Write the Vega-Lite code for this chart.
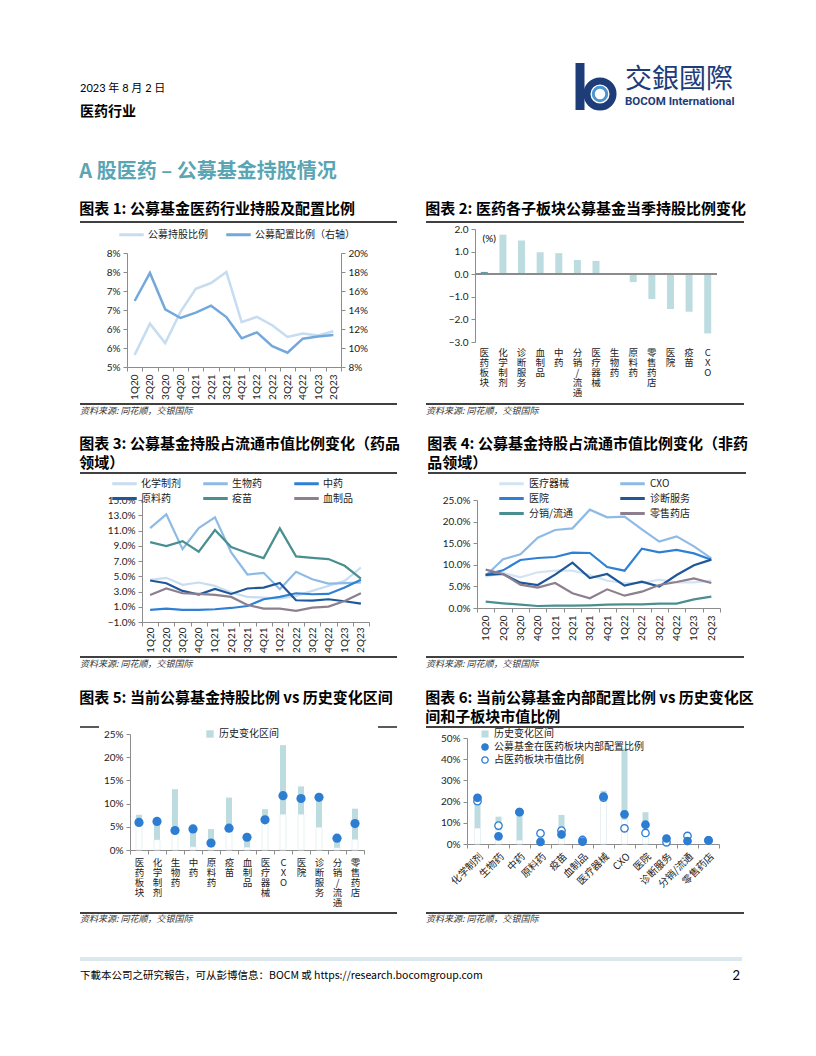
{
"$schema": "https://vega.github.io/schema/vega-lite/v6.json",
"padding": {"left": 78, "top": 58, "right": 5, "bottom": 5},
"background": "white",
"spacing": 0,
"resolve": {"scale": {"x": "independent", "y": "independent", "color": "independent", "fill": "independent", "stroke": "independent"}, "legend": {"color": "independent", "fill": "independent", "stroke": "independent"}},
"config": {
  "font": "Lato, Noto Sans CJK SC",
  "view": {"stroke": null},
  "axis": {"grid": false, "domainColor": "#8c8c8c", "tickColor": "#8c8c8c", "labelColor": "#222222", "labelFont": "Lato, Noto Sans CJK SC", "labelFontSize": 10, "tickSize": 4, "labelPadding": 3, "labelOverlap": false},
  "legend": {"labelFont": "Noto Sans CJK SC", "labelFontSize": 10, "labelColor": "#222222"},
  "title": {"anchor": "start", "frame": "bounds", "font": "Noto Sans CJK SC", "fontSize": 15, "fontWeight": "bold", "color": "#000000", "offset": 1, "lineHeight": 19}
},
"datasets": {
  "blank": [{}],
  "c1": [
    {"q":"1Q20","hold":5.32,"alloc":14.95},{"q":"2Q20","hold":6.14,"alloc":17.9},{"q":"3Q20","hold":5.63,"alloc":14.07},{"q":"4Q20","hold":6.45,"alloc":13.16},
    {"q":"1Q21","hold":7.06,"alloc":13.72},{"q":"2Q21","hold":7.21,"alloc":14.46},{"q":"3Q21","hold":7.5,"alloc":13.26},{"q":"4Q21","hold":6.18,"alloc":11.02},
    {"q":"1Q22","hold":6.32,"alloc":11.65},{"q":"2Q22","hold":6.1,"alloc":10.2},{"q":"3Q22","hold":5.79,"alloc":9.5},{"q":"4Q22","hold":5.88,"alloc":10.98},
    {"q":"1Q23","hold":5.83,"alloc":11.2},{"q":"2Q23","hold":5.94,"alloc":11.37}
  ],
  "c2": [
    {"cat":"医药板块","v":0.1},{"cat":"化学制剂","v":1.75},{"cat":"诊断服务","v":1.49},{"cat":"血制品","v":0.97},{"cat":"中药","v":0.93},{"cat":"分销/流通","v":0.63},{"cat":"医疗器械","v":0.59},{"cat":"生物药","v":0.04},{"cat":"原料药","v":-0.35},{"cat":"零售药店","v":-1.1},{"cat":"医院","v":-1.54},{"cat":"疫苗","v":-1.66},{"cat":"CXO","v":-2.62}
  ],
  "c3": [
    {"q":"1Q20","s":"化学制剂","v":4.53},{"q":"2Q20","s":"化学制剂","v":4.79},{"q":"3Q20","s":"化学制剂","v":3.87},{"q":"4Q20","s":"化学制剂","v":4.18},{"q":"1Q21","s":"化学制剂","v":3.74},{"q":"2Q21","s":"化学制剂","v":2.86},{"q":"3Q21","s":"化学制剂","v":2.29},{"q":"4Q21","s":"化学制剂","v":2.2},{"q":"1Q22","s":"化学制剂","v":2.07},{"q":"2Q22","s":"化学制剂","v":2.42},{"q":"3Q22","s":"化学制剂","v":3.08},{"q":"4Q22","s":"化学制剂","v":3.74},{"q":"1Q23","s":"化学制剂","v":4.39},{"q":"2Q23","s":"化学制剂","v":6.15},
    {"q":"1Q20","s":"生物药","v":11.32},{"q":"2Q20","s":"生物药","v":13.12},{"q":"3Q20","s":"生物药","v":8.56},{"q":"4Q20","s":"生物药","v":11.32},{"q":"1Q21","s":"生物药","v":12.73},{"q":"2Q21","s":"生物药","v":8.12},{"q":"3Q21","s":"生物药","v":5.23},{"q":"4Q21","s":"生物药","v":5.45},{"q":"1Q22","s":"生物药","v":3.3},{"q":"2Q22","s":"生物药","v":5.58},{"q":"3Q22","s":"生物药","v":4.61},{"q":"4Q22","s":"生物药","v":4.04},{"q":"1Q23","s":"生物药","v":4.09},{"q":"2Q23","s":"生物药","v":4.18},
    {"q":"1Q20","s":"中药","v":0.58},{"q":"2Q20","s":"中药","v":0.75},{"q":"3Q20","s":"中药","v":0.58},{"q":"4Q20","s":"中药","v":0.58},{"q":"1Q21","s":"中药","v":0.67},{"q":"2Q21","s":"中药","v":0.84},{"q":"3Q21","s":"中药","v":1.1},{"q":"4Q21","s":"中药","v":1.98},{"q":"1Q22","s":"中药","v":2.29},{"q":"2Q22","s":"中药","v":2.77},{"q":"3Q22","s":"中药","v":2.64},{"q":"4Q22","s":"中药","v":2.68},{"q":"1Q23","s":"中药","v":3.52},{"q":"2Q23","s":"中药","v":4.53},
    {"q":"1Q20","s":"原料药","v":4.44},{"q":"2Q20","s":"原料药","v":4.09},{"q":"3Q20","s":"原料药","v":3.08},{"q":"4Q20","s":"原料药","v":2.6},{"q":"1Q21","s":"原料药","v":3.34},{"q":"2Q21","s":"原料药","v":2.68},{"q":"3Q21","s":"原料药","v":3.39},{"q":"4Q21","s":"原料药","v":3.52},{"q":"1Q22","s":"原料药","v":4.13},{"q":"2Q22","s":"原料药","v":1.85},{"q":"3Q22","s":"原料药","v":1.81},{"q":"4Q22","s":"原料药","v":1.98},{"q":"1Q23","s":"原料药","v":1.72},{"q":"2Q23","s":"原料药","v":1.41},
    {"q":"1Q20","s":"疫苗","v":9.48},{"q":"2Q20","s":"疫苗","v":8.96},{"q":"3Q20","s":"疫苗","v":9.61},{"q":"4Q20","s":"疫苗","v":8.21},{"q":"1Q21","s":"疫苗","v":11.06},{"q":"2Q21","s":"疫苗","v":8.82},{"q":"3Q21","s":"疫苗","v":8.04},{"q":"4Q21","s":"疫苗","v":7.38},{"q":"1Q22","s":"疫苗","v":11.28},{"q":"2Q22","s":"疫苗","v":7.6},{"q":"3Q22","s":"疫苗","v":7.42},{"q":"4Q22","s":"疫苗","v":7.25},{"q":"1Q23","s":"疫苗","v":6.37},{"q":"2Q23","s":"疫苗","v":4.7},
    {"q":"1Q20","s":"血制品","v":2.55},{"q":"2Q20","s":"血制品","v":3.39},{"q":"3Q20","s":"血制品","v":2.77},{"q":"4Q20","s":"血制品","v":2.68},{"q":"1Q21","s":"血制品","v":2.55},{"q":"2Q21","s":"血制品","v":2.29},{"q":"3Q21","s":"血制品","v":1.24},{"q":"4Q21","s":"血制品","v":0.75},{"q":"1Q22","s":"血制品","v":0.75},{"q":"2Q22","s":"血制品","v":0.45},{"q":"3Q22","s":"血制品","v":0.89},{"q":"4Q22","s":"血制品","v":1.02},{"q":"1Q23","s":"血制品","v":1.76},{"q":"2Q23","s":"血制品","v":2.77}
  ],
  "c4": [
    {"q":"1Q20","s":"医疗器械","v":7.25},{"q":"2Q20","s":"医疗器械","v":8.1},{"q":"3Q20","s":"医疗器械","v":7.1},{"q":"4Q20","s":"医疗器械","v":8.26},{"q":"1Q21","s":"医疗器械","v":8.64},{"q":"2Q21","s":"医疗器械","v":8.64},{"q":"3Q21","s":"医疗器械","v":7.64},{"q":"4Q21","s":"医疗器械","v":6.33},{"q":"1Q22","s":"医疗器械","v":5.79},{"q":"2Q22","s":"医疗器械","v":5.79},{"q":"3Q22","s":"医疗器械","v":6.56},{"q":"4Q22","s":"医疗器械","v":5.94},{"q":"1Q23","s":"医疗器械","v":5.94},{"q":"2Q23","s":"医疗器械","v":6.33},
    {"q":"1Q20","s":"CXO","v":7.48},{"q":"2Q20","s":"CXO","v":11.27},{"q":"3Q20","s":"CXO","v":12.42},{"q":"4Q20","s":"CXO","v":16.28},{"q":"1Q21","s":"CXO","v":18.06},{"q":"2Q21","s":"CXO","v":18.44},{"q":"3Q21","s":"CXO","v":22.76},{"q":"4Q21","s":"CXO","v":20.99},{"q":"1Q22","s":"CXO","v":21.14},{"q":"2Q22","s":"CXO","v":18.21},{"q":"3Q22","s":"CXO","v":15.36},{"q":"4Q22","s":"CXO","v":16.59},{"q":"1Q23","s":"CXO","v":14.27},{"q":"2Q23","s":"CXO","v":11.5},
    {"q":"1Q20","s":"医院","v":7.72},{"q":"2Q20","s":"医院","v":8.72},{"q":"3Q20","s":"医院","v":11.11},{"q":"4Q20","s":"医院","v":11.57},{"q":"1Q21","s":"医院","v":11.81},{"q":"2Q21","s":"医院","v":12.81},{"q":"3Q21","s":"医院","v":12.73},{"q":"4Q21","s":"医院","v":9.49},{"q":"1Q22","s":"医院","v":8.64},{"q":"2Q22","s":"医院","v":13.73},{"q":"3Q22","s":"医院","v":12.89},{"q":"4Q22","s":"医院","v":13.43},{"q":"1Q23","s":"医院","v":12.65},{"q":"2Q23","s":"医院","v":11.19},
    {"q":"1Q20","s":"诊断服务","v":7.64},{"q":"2Q20","s":"诊断服务","v":7.87},{"q":"3Q20","s":"诊断服务","v":5.86},{"q":"4Q20","s":"诊断服务","v":5.32},{"q":"1Q21","s":"诊断服务","v":7.72},{"q":"2Q21","s":"诊断服务","v":10.49},{"q":"3Q21","s":"诊断服务","v":6.94},{"q":"4Q21","s":"诊断服务","v":7.87},{"q":"1Q22","s":"诊断服务","v":5.17},{"q":"2Q22","s":"诊断服务","v":6.1},{"q":"3Q22","s":"诊断服务","v":4.94},{"q":"4Q22","s":"诊断服务","v":7.64},{"q":"1Q23","s":"诊断服务","v":9.88},{"q":"2Q23","s":"诊断服务","v":11.19},
    {"q":"1Q20","s":"分销/流通","v":1.47},{"q":"2Q20","s":"分销/流通","v":1.08},{"q":"3Q20","s":"分销/流通","v":0.77},{"q":"4Q20","s":"分销/流通","v":0.46},{"q":"1Q21","s":"分销/流通","v":0.54},{"q":"2Q21","s":"分销/流通","v":0.54},{"q":"3Q21","s":"分销/流通","v":0.62},{"q":"4Q21","s":"分销/流通","v":0.77},{"q":"1Q22","s":"分销/流通","v":0.85},{"q":"2Q22","s":"分销/流通","v":0.85},{"q":"3Q22","s":"分销/流通","v":1.0},{"q":"4Q22","s":"分销/流通","v":1.0},{"q":"1Q23","s":"分销/流通","v":2.0},{"q":"2Q23","s":"分销/流通","v":2.62},
    {"q":"1Q20","s":"零售药店","v":8.87},{"q":"2Q20","s":"零售药店","v":7.87},{"q":"3Q20","s":"零售药店","v":5.4},{"q":"4Q20","s":"零售药店","v":4.71},{"q":"1Q21","s":"零售药店","v":5.79},{"q":"2Q21","s":"零售药店","v":3.4},{"q":"3Q21","s":"零售药店","v":2.24},{"q":"4Q21","s":"零售药店","v":4.32},{"q":"1Q22","s":"零售药店","v":2.85},{"q":"2Q22","s":"零售药店","v":3.78},{"q":"3Q22","s":"零售药店","v":5.32},{"q":"4Q22","s":"零售药店","v":6.02},{"q":"1Q23","s":"零售药店","v":6.87},{"q":"2Q23","s":"零售药店","v":5.79}
  ],
  "c5": [
    {"cat":"医药板块","lo":5.5,"hi":7.6,"cur":5.95},{"cat":"化学制剂","lo":2.2,"hi":6.3,"cur":6.15},{"cat":"生物药","lo":4.6,"hi":13.1,"cur":4.2},{"cat":"中药","lo":0.7,"hi":4.6,"cur":4.55},{"cat":"原料药","lo":1.2,"hi":4.5,"cur":1.5},{"cat":"疫苗","lo":4.3,"hi":11.3,"cur":4.7},{"cat":"血制品","lo":0.6,"hi":2.9,"cur":2.75},{"cat":"医疗器械","lo":6.0,"hi":8.8,"cur":6.5},{"cat":"CXO","lo":7.7,"hi":22.6,"cur":11.7},{"cat":"医院","lo":7.7,"hi":13.7,"cur":11.1},{"cat":"诊断服务","lo":4.9,"hi":11.4,"cur":11.35},{"cat":"分销/流通","lo":0.5,"hi":2.6,"cur":2.55},{"cat":"零售药店","lo":2.3,"hi":8.9,"cur":5.7}
  ],
  "c6": [
    {"cat":"化学制剂","lo":7.5,"hi":22.0,"alloc":21.8,"mkt":20.2},{"cat":"生物药","lo":6.5,"hi":12.9,"alloc":3.6,"mkt":8.7},{"cat":"中药","lo":1.8,"hi":15.5,"alloc":15.0,"mkt":15.1},{"cat":"原料药","lo":0.8,"hi":1.4,"alloc":1.0,"mkt":5.0},{"cat":"疫苗","lo":4.6,"hi":13.7,"alloc":4.5,"mkt":6.3},{"cat":"血制品","lo":0.8,"hi":1.9,"alloc":1.1,"mkt":1.9},{"cat":"医疗器械","lo":21.5,"hi":25.1,"alloc":22.4,"mkt":21.9},{"cat":"CXO","lo":11.5,"hi":45.0,"alloc":14.0,"mkt":7.4},{"cat":"医院","lo":8.5,"hi":15.0,"alloc":9.1,"mkt":5.2},{"cat":"诊断服务","lo":1.5,"hi":2.8,"alloc":2.6,"mkt":0.8},{"cat":"分销/流通","lo":1.0,"hi":1.8,"alloc":1.4,"mkt":3.8},{"cat":"零售药店","lo":1.0,"hi":2.2,"alloc":1.7,"mkt":1.7}
  ]
},
"vconcat": [
  {"hconcat": [
    {"width": 480, "height": 100, "data": {"name": "blank"},
     "layer": [
      {"mark": {"type": "text", "align": "left", "baseline": "middle", "fontSize": 11, "color": "#000000"},
       "encoding": {"x": {"datum": 0, "type": "quantitative", "scale": {"domain": [0, 480], "nice": false}, "axis": null}, "y": {"datum": 27, "type": "quantitative", "scale": {"domain": [100, 0], "nice": false}, "axis": null}, "text": {"value": "2023 年 8 月 2 日"}}},
      {"mark": {"type": "text", "align": "left", "baseline": "middle", "fontSize": 14, "fontWeight": "bold", "font": "Noto Sans CJK SC", "color": "#000000"},
       "encoding": {"x": {"datum": 0, "type": "quantitative"}, "y": {"datum": 50, "type": "quantitative"}, "text": {"value": "医药行业"}}}
     ]},
    {"width": 170, "height": 100, "data": {"name": "blank"},
     "layer": [
      {"mark": {"type": "rule", "strokeWidth": 9, "color": "#1d3c78", "strokeCap": "butt"},
       "encoding": {"x": {"datum": 7, "type": "quantitative", "scale": {"domain": [0, 170], "nice": false}, "axis": null}, "y": {"datum": 1, "type": "quantitative", "scale": {"domain": [100, 0], "nice": false}, "axis": null}, "y2": {"datum": 48}}},
      {"mark": {"type": "point", "shape": "circle", "filled": false, "stroke": "#1d3c78", "strokeWidth": 7, "size": 680, "opacity": 1},
       "encoding": {"x": {"datum": 27, "type": "quantitative"}, "y": {"datum": 32, "type": "quantitative"}}},
      {"mark": {"type": "point", "shape": "circle", "filled": false, "stroke": "#4f95d0", "strokeWidth": 3, "size": 180, "opacity": 1},
       "encoding": {"x": {"datum": 27, "type": "quantitative"}, "y": {"datum": 32, "type": "quantitative"}}},
      {"mark": {"type": "text", "align": "left", "baseline": "middle", "fontSize": 27, "font": "Noto Sans CJK TC", "color": "#1d3c78"},
       "encoding": {"x": {"datum": 52, "type": "quantitative"}, "y": {"datum": 18, "type": "quantitative"}, "text": {"value": "交銀國際"}}},
      {"mark": {"type": "text", "align": "left", "baseline": "middle", "fontSize": 11.5, "fontWeight": "bold", "font": "Roboto", "color": "#1d3c78"},
       "encoding": {"x": {"datum": 52, "type": "quantitative"}, "y": {"datum": 40, "type": "quantitative"}, "text": {"value": "BOCOM International"}}}
     ]}
  ], "spacing": 12, "resolve": {"scale": {"x": "independent", "y": "independent", "color": "independent"}, "legend": {"color": "independent"}}},

  {"hconcat": [
    {"width": 317, "height": 1, "data": {"name": "blank"},
     "title": {"text": "A 股医药 – 公募基金持股情况", "subtitle": "图表 1: 公募基金医药行业持股及配置比例", "fontSize": 20, "color": "#5aa5b3", "subtitleFont": "Noto Sans CJK SC", "subtitleFontSize": 15, "subtitleFontWeight": "bold", "subtitleColor": "#000000", "subtitlePadding": 20, "offset": 4},
     "mark": {"type": "rule", "strokeWidth": 1.3, "color": "#000000"},
     "encoding": {"x": {"datum": 0, "type": "quantitative", "scale": {"domain": [0, 1], "nice": false}, "axis": null}, "x2": {"datum": 1}, "y": {"datum": 1, "type": "quantitative", "scale": {"domain": [0, 1], "nice": false}, "axis": null}}},
    {"width": 318, "height": 1, "data": {"name": "blank"},
     "title": {"text": " ", "subtitle": "图表 2: 医药各子板块公募基金当季持股比例变化", "fontSize": 20, "color": "#5aa5b3", "subtitleFont": "Noto Sans CJK SC", "subtitleFontSize": 15, "subtitleFontWeight": "bold", "subtitleColor": "#000000", "subtitlePadding": 20, "offset": 4},
     "mark": {"type": "rule", "strokeWidth": 1.3, "color": "#000000"},
     "encoding": {"x": {"datum": 0, "type": "quantitative", "scale": {"domain": [0, 1], "nice": false}, "axis": null}, "x2": {"datum": 1}, "y": {"datum": 1, "type": "quantitative", "scale": {"domain": [0, 1], "nice": false}, "axis": null}}}
  ], "spacing": 27, "resolve": {"scale": {"x": "independent", "y": "independent"}}},

  {"hconcat": [
    {"width": 1, "height": 1, "data": {"name": "blank"}, "mark": {"type": "rule", "strokeWidth": 0, "opacity": 0}, "encoding": {"x": {"value": 0}, "y": {"value": 0}, "x2": {"value": 1}, "y2": {"value": 0}}},
    {"vconcat": [
      {"width": 1, "height": 3, "data": {"name": "blank"}, "mark": {"type": "rule", "strokeWidth": 0, "opacity": 0}, "encoding": {"x": {"value": 0}, "y": {"value": 0}, "x2": {"value": 1}, "y2": {"value": 0}}},
      {"width": 214, "height": 114, "data": {"name": "c1"},
       "encoding": {"x": {"field": "q", "type": "ordinal", "sort": null, "bandPosition": 0.5, "scale": {"type": "band", "paddingInner": 0, "paddingOuter": 0}, "axis": {"labelAngle": -90, "tickBand": "extent", "title": null, "labelFontSize": 10}}},
       "layer": [
        {"mark": {"type": "line", "strokeWidth": 2.5},
         "encoding": {
          "y": {"field": "hold", "type": "quantitative", "scale": {"domain": [5, 8], "zero": false, "nice": false}, "axis": {"orient": "left", "values": [5, 5.5, 6, 6.5, 7, 7.5, 8], "labelExpr": "round(datum.value) + '%'", "title": null, "minExtent": 46, "labelOverlap": false}},
          "color": {"datum": "公募持股比例", "scale": {"domain": ["公募持股比例", "公募配置比例（右轴）"], "range": ["#c6dcf0", "#72a8dc"]},
                    "legend": {"orient": "none", "legendX": -4, "legendY": -27, "direction": "horizontal", "title": null, "symbolType": "M-1.75,0L1.75,0", "symbolSize": 196, "symbolStrokeWidth": 3, "columnPadding": 12, "labelOffset": 8}}}},
        {"mark": {"type": "line", "strokeWidth": 2.5},
         "encoding": {
          "y": {"field": "alloc", "type": "quantitative", "scale": {"domain": [8, 20], "zero": false, "nice": false}, "axis": {"orient": "right", "values": [8, 10, 12, 14, 16, 18, 20], "labelExpr": "datum.value + '%'", "title": null, "minExtent": 83, "labelOverlap": false}},
          "color": {"datum": "公募配置比例（右轴）"}}}
       ],
       "resolve": {"scale": {"y": "independent"}}}
    ], "spacing": 0, "resolve": {"scale": {"x": "independent", "y": "independent", "color": "independent"}, "legend": {"color": "independent"}}},
    {"vconcat": [
      {"width": 1, "height": 1, "data": {"name": "blank"}, "mark": {"type": "rule", "strokeWidth": 0, "opacity": 0}, "encoding": {"x": {"value": 0}, "y": {"value": 0}, "x2": {"value": 1}, "y2": {"value": 0}}},
      {"width": 242, "height": 113, "data": {"name": "c2"},
       "layer": [
        {"mark": {"type": "bar", "size": 7},
         "encoding": {
          "x": {"field": "cat", "type": "nominal", "sort": null, "scale": {"paddingInner": 0, "paddingOuter": 0}, "axis": {"orient": "bottom", "domain": false, "ticks": false, "labelAngle": 0, "labelExpr": "split(datum.label, '')", "labelLineHeight": 10, "labelBaseline": "top", "labelFont": "Noto Sans CJK SC", "labelFontSize": 9.5, "title": null, "labelPadding": 5}},
          "y": {"field": "v", "type": "quantitative", "scale": {"domain": [-3, 2], "nice": false}, "axis": {"values": [-3, -2, -1, 0, 1, 2], "format": ".1f", "labelOverlap": false, "title": "(%)", "titleAngle": 0, "titleX": 7, "titleY": 9, "titleAlign": "left", "titleBaseline": "middle", "titleFontSize": 10, "titleFontWeight": "normal", "titleFont": "Lato", "minExtent": 51}},
          "color": {"condition": {"test": "datum.cat === '医药板块'", "value": "#5e9fac"}, "value": "#bddce0"}}},
        {"mark": {"type": "rule", "color": "#8c8c8c", "strokeWidth": 1},
         "encoding": {"y": {"datum": 0, "type": "quantitative", "axis": {"values": [-3, -2, -1, 0, 1, 2], "format": ".1f", "labelOverlap": false, "title": "(%)", "titleAngle": 0, "titleX": 7, "titleY": 9, "titleAlign": "left", "titleBaseline": "middle", "titleFontSize": 10, "titleFontWeight": "normal", "titleFont": "Lato", "minExtent": 51}}}}
       ]}
    ], "spacing": 0, "resolve": {"scale": {"x": "independent", "y": "independent", "color": "independent"}, "legend": {"color": "independent"}}}
  ], "spacing": 0, "resolve": {"scale": {"x": "independent", "y": "independent", "color": "independent"}, "legend": {"color": "independent"}}},

  {"hconcat": [
    {"width": 317, "height": 37, "data": {"name": "blank"},
     "layer": [
      {"mark": {"type": "rule", "strokeWidth": 1.3, "color": "#000000"},
       "encoding": {"x": {"datum": 0, "type": "quantitative", "scale": {"domain": [0, 1], "nice": false}, "axis": null}, "x2": {"datum": 1}, "y": {"datum": 4, "type": "quantitative", "scale": {"domain": [37, 0], "nice": false}, "axis": null}}},
      {"mark": {"type": "text", "align": "left", "baseline": "middle", "fontSize": 9, "fontStyle": "italic", "font": "Noto Sans CJK SC", "color": "#333333"},
       "encoding": {"x": {"datum": 0, "type": "quantitative"}, "y": {"datum": 11, "type": "quantitative"}, "text": {"value": "资料来源: 同花顺，交银国际"}}}
     ]},
    {"width": 318, "height": 37, "data": {"name": "blank"},
     "layer": [
      {"mark": {"type": "rule", "strokeWidth": 1.3, "color": "#000000"},
       "encoding": {"x": {"datum": 0, "type": "quantitative", "scale": {"domain": [0, 1], "nice": false}, "axis": null}, "x2": {"datum": 1}, "y": {"datum": 4, "type": "quantitative", "scale": {"domain": [37, 0], "nice": false}, "axis": null}}},
      {"mark": {"type": "text", "align": "left", "baseline": "middle", "fontSize": 9, "fontStyle": "italic", "font": "Noto Sans CJK SC", "color": "#333333"},
       "encoding": {"x": {"datum": 0, "type": "quantitative"}, "y": {"datum": 11, "type": "quantitative"}, "text": {"value": "资料来源: 同花顺，交银国际"}}}
     ]}
  ], "spacing": 27, "resolve": {"scale": {"x": "independent", "y": "independent"}}},

  {"hconcat": [
    {"width": 317, "height": 1, "data": {"name": "blank"},
     "title": {"text": ["图表 3: 公募基金持股占流通市值比例变化（药品", "领域）"]},
     "mark": {"type": "rule", "strokeWidth": 1.3, "color": "#000000"},
     "encoding": {"x": {"datum": 0, "type": "quantitative", "scale": {"domain": [0, 1], "nice": false}, "axis": null}, "x2": {"datum": 1}, "y": {"datum": 1, "type": "quantitative", "scale": {"domain": [0, 1], "nice": false}, "axis": null}}},
    {"width": 318, "height": 1, "data": {"name": "blank"},
     "title": {"text": ["图表 4: 公募基金持股占流通市值比例变化（非药", "品领域）"]},
     "mark": {"type": "rule", "strokeWidth": 1.3, "color": "#000000"},
     "encoding": {"x": {"datum": 0, "type": "quantitative", "scale": {"domain": [0, 1], "nice": false}, "axis": null}, "x2": {"datum": 1}, "y": {"datum": 1, "type": "quantitative", "scale": {"domain": [0, 1], "nice": false}, "axis": null}}}
  ], "spacing": 27, "resolve": {"scale": {"x": "independent", "y": "independent"}}},

  {"hconcat": [
    {"width": 1, "height": 1, "data": {"name": "blank"}, "mark": {"type": "rule", "strokeWidth": 0, "opacity": 0}, "encoding": {"x": {"value": 0}, "y": {"value": 0}, "x2": {"value": 1}, "y2": {"value": 0}}},
    {"vconcat": [
      {"width": 1, "height": 1, "data": {"name": "blank"}, "mark": {"type": "rule", "strokeWidth": 0, "opacity": 0}, "encoding": {"x": {"value": 0}, "y": {"value": 0}, "x2": {"value": 1}, "y2": {"value": 0}}},
      {"width": 227, "height": 122, "data": {"name": "c3"},
       "mark": {"type": "line", "strokeWidth": 2.2},
       "encoding": {
        "x": {"field": "q", "type": "ordinal", "sort": null, "bandPosition": 0.5, "scale": {"type": "band", "paddingInner": 0, "paddingOuter": 0}, "axis": {"labelAngle": -90, "tickBand": "extent", "title": null, "labelPadding": 1}},
        "y": {"field": "v", "type": "quantitative", "scale": {"domain": [-1, 15], "nice": false, "zero": false}, "axis": {"values": [-1, 1, 3, 5, 7, 9, 11, 13, 15], "labelExpr": "format(datum.value, '.1f') + '%'", "title": null, "minExtent": 61, "labelOverlap": false}},
        "color": {"field": "s", "type": "nominal", "scale": {"domain": ["化学制剂", "生物药", "中药", "原料药", "疫苗", "血制品"], "range": ["#c9ddf0", "#8ebbe6", "#2f80d4", "#1f5799", "#4a8f8f", "#8d7f8e"]},
                  "legend": {"orient": "none", "legendX": -26, "legendY": -25, "direction": "horizontal", "columns": 3, "title": null, "symbolType": "M-1.75,0L1.75,0", "symbolSize": 196, "symbolStrokeWidth": 3, "columnPadding": 16, "rowPadding": -6, "labelOffset": 8, "gridAlign": "all"}}
       }}
    ], "spacing": 0, "resolve": {"scale": {"x": "independent", "y": "independent", "color": "independent"}, "legend": {"color": "independent"}}},
    {"vconcat": [
      {"width": 1, "height": 1, "data": {"name": "blank"}, "mark": {"type": "rule", "strokeWidth": 0, "opacity": 0}, "encoding": {"x": {"value": 0}, "y": {"value": 0}, "x2": {"value": 1}, "y2": {"value": 0}}},
      {"width": 243, "height": 108, "data": {"name": "c4"},
       "mark": {"type": "line", "strokeWidth": 2.2},
       "encoding": {
        "x": {"field": "q", "type": "ordinal", "sort": null, "bandPosition": 0.5, "scale": {"type": "band", "paddingInner": 0, "paddingOuter": 0}, "axis": {"labelAngle": -90, "tickBand": "extent", "title": null}},
        "y": {"field": "v", "type": "quantitative", "scale": {"domain": [0, 25], "nice": false}, "axis": {"values": [0, 5, 10, 15, 20, 25], "labelExpr": "format(datum.value, '.1f') + '%'", "title": null, "minExtent": 107, "labelOverlap": false}},
        "color": {"field": "s", "type": "nominal", "scale": {"domain": ["医疗器械", "CXO", "医院", "诊断服务", "分销/流通", "零售药店"], "range": ["#d3e4f4", "#8ebbe6", "#2f80d4", "#1f5799", "#4a8f8f", "#8d7f8e"]},
                  "legend": {"orient": "none", "legendX": 26, "legendY": -25, "direction": "horizontal", "columns": 2, "title": null, "symbolType": "M-1.75,0L1.75,0", "symbolSize": 196, "symbolStrokeWidth": 3, "columnPadding": 41, "rowPadding": -2.5, "labelOffset": 9, "gridAlign": "all"}}
       }}
    ], "spacing": 0, "resolve": {"scale": {"x": "independent", "y": "independent", "color": "independent"}, "legend": {"color": "independent"}}}
  ], "spacing": 0, "resolve": {"scale": {"x": "independent", "y": "independent", "color": "independent"}, "legend": {"color": "independent"}}},

  {"hconcat": [
    {"width": 317, "height": 38, "data": {"name": "blank"},
     "layer": [
      {"mark": {"type": "rule", "strokeWidth": 1.3, "color": "#000000"},
       "encoding": {"x": {"datum": 0, "type": "quantitative", "scale": {"domain": [0, 1], "nice": false}, "axis": null}, "x2": {"datum": 1}, "y": {"datum": 4, "type": "quantitative", "scale": {"domain": [38, 0], "nice": false}, "axis": null}}},
      {"mark": {"type": "text", "align": "left", "baseline": "middle", "fontSize": 9, "fontStyle": "italic", "font": "Noto Sans CJK SC", "color": "#333333"},
       "encoding": {"x": {"datum": 0, "type": "quantitative"}, "y": {"datum": 11, "type": "quantitative"}, "text": {"value": "资料来源: 同花顺，交银国际"}}}
     ]},
    {"width": 318, "height": 38, "data": {"name": "blank"},
     "layer": [
      {"mark": {"type": "rule", "strokeWidth": 1.3, "color": "#000000"},
       "encoding": {"x": {"datum": 0, "type": "quantitative", "scale": {"domain": [0, 1], "nice": false}, "axis": null}, "x2": {"datum": 1}, "y": {"datum": 4, "type": "quantitative", "scale": {"domain": [38, 0], "nice": false}, "axis": null}}},
      {"mark": {"type": "text", "align": "left", "baseline": "middle", "fontSize": 9, "fontStyle": "italic", "font": "Noto Sans CJK SC", "color": "#333333"},
       "encoding": {"x": {"datum": 0, "type": "quantitative"}, "y": {"datum": 11, "type": "quantitative"}, "text": {"value": "资料来源: 同花顺，交银国际"}}}
     ]}
  ], "spacing": 27, "resolve": {"scale": {"x": "independent", "y": "independent"}}},

  {"hconcat": [
    {"width": 317, "height": 1, "data": {"name": "blank"},
     "title": {"text": ["图表 5: 当前公募基金持股比例 vs 历史变化区间", " "]},
     "layer": [
      {"mark": {"type": "rule", "strokeWidth": 1.3, "color": "#000000"},
       "encoding": {"x": {"datum": 0, "type": "quantitative", "scale": {"domain": [0, 1], "nice": false}, "axis": null}, "x2": {"datum": 0.06}, "y": {"datum": 1, "type": "quantitative", "scale": {"domain": [0, 1], "nice": false}, "axis": null}}},
      {"mark": {"type": "rule", "strokeWidth": 1.3, "color": "#000000"},
       "encoding": {"x": {"datum": 0.94, "type": "quantitative"}, "x2": {"datum": 1}, "y": {"datum": 1, "type": "quantitative"}}}
     ]},
    {"width": 318, "height": 1, "data": {"name": "blank"},
     "title": {"text": ["图表 6: 当前公募基金内部配置比例 vs 历史变化区", "间和子板块市值比例"]},
     "mark": {"type": "rule", "strokeWidth": 1.3, "color": "#000000"},
     "encoding": {"x": {"datum": 0, "type": "quantitative", "scale": {"domain": [0, 1], "nice": false}, "axis": null}, "x2": {"datum": 1}, "y": {"datum": 1, "type": "quantitative", "scale": {"domain": [0, 1], "nice": false}, "axis": null}}}
  ], "spacing": 27, "resolve": {"scale": {"x": "independent", "y": "independent"}}},

  {"hconcat": [
    {"width": 1, "height": 1, "data": {"name": "blank"}, "mark": {"type": "rule", "strokeWidth": 0, "opacity": 0}, "encoding": {"x": {"value": 0}, "y": {"value": 0}, "x2": {"value": 1}, "y2": {"value": 0}}},
    {"vconcat": [
      {"width": 1, "height": 1, "data": {"name": "blank"}, "mark": {"type": "rule", "strokeWidth": 0, "opacity": 0}, "encoding": {"x": {"value": 0}, "y": {"value": 0}, "x2": {"value": 1}, "y2": {"value": 0}}},
      {"width": 234, "height": 116, "data": {"name": "c5"},
       "encoding": {"x": {"field": "cat", "type": "nominal", "sort": null, "scale": {"paddingInner": 0, "paddingOuter": 0}, "axis": {"labelAngle": 0, "labelExpr": "split(datum.label, '')", "labelLineHeight": 10, "labelBaseline": "top", "labelFont": "Noto Sans CJK SC", "labelFontSize": 9.5, "tickBand": "extent", "title": null}}},
       "layer": [
        {"mark": {"type": "bar", "size": 6, "fill": "#ffffff", "stroke": "#e2edf0", "strokeWidth": 0.8},
         "encoding": {"y": {"field": "lo", "type": "quantitative", "scale": {"domain": [0, 25], "nice": false}, "axis": {"values": [0, 5, 10, 15, 20, 25], "labelExpr": "datum.value + '%'", "title": null, "minExtent": 49, "labelOverlap": false}}, "y2": {"datum": 0}}},
        {"mark": {"type": "bar", "size": 6},
         "encoding": {"y": {"field": "lo", "type": "quantitative", "axis": {"values": [0, 5, 10, 15, 20, 25], "labelExpr": "datum.value + '%'", "title": null, "minExtent": 49, "labelOverlap": false}}, "y2": {"field": "hi"},
          "color": {"datum": "历史变化区间", "scale": {"domain": ["历史变化区间"], "range": ["#bddce0"]}, "legend": {"orient": "none", "legendX": 75, "legendY": -5, "title": null, "symbolType": "square", "symbolSize": 55, "labelOffset": 4}}}},
        {"mark": {"type": "point", "filled": true, "size": 85, "color": "#2d7dd2", "opacity": 1},
         "encoding": {"y": {"field": "cur", "type": "quantitative", "axis": {"values": [0, 5, 10, 15, 20, 25], "labelExpr": "datum.value + '%'", "title": null, "minExtent": 49, "labelOverlap": false}}}}
       ]}
    ], "spacing": 0, "resolve": {"scale": {"x": "independent", "y": "independent", "color": "independent"}, "legend": {"color": "independent"}}},
    {"vconcat": [
      {"width": 1, "height": 1, "data": {"name": "blank"}, "mark": {"type": "rule", "strokeWidth": 0, "opacity": 0}, "encoding": {"x": {"value": 0}, "y": {"value": 0}, "x2": {"value": 1}, "y2": {"value": 0}}},
      {"width": 252, "height": 106, "data": {"name": "c6"},
       "encoding": {"x": {"field": "cat", "type": "nominal", "sort": null, "scale": {"paddingInner": 0, "paddingOuter": 0}, "axis": {"labelAngle": -45, "labelFont": "Noto Sans CJK SC", "labelFontSize": 10, "tickBand": "extent", "title": null}}},
       "layer": [
        {"mark": {"type": "bar", "size": 6, "fill": "#ffffff", "stroke": "#e2edf0", "strokeWidth": 0.8},
         "encoding": {"y": {"field": "lo", "type": "quantitative", "scale": {"domain": [0, 50], "nice": false}, "axis": {"values": [0, 10, 20, 30, 40, 50], "labelExpr": "datum.value + '%'", "title": null, "minExtent": 102, "labelOverlap": false}}, "y2": {"datum": 0}}},
        {"mark": {"type": "bar", "size": 6},
         "encoding": {"y": {"field": "lo", "type": "quantitative", "axis": {"values": [0, 10, 20, 30, 40, 50], "labelExpr": "datum.value + '%'", "title": null, "minExtent": 102, "labelOverlap": false}}, "y2": {"field": "hi"},
          "color": {"datum": "历史变化区间", "scale": {"domain": ["历史变化区间"], "range": ["#bddce0"]}, "legend": {"orient": "none", "legendX": 13, "legendY": -9, "title": null, "symbolType": "square", "symbolSize": 50, "labelOffset": 4}}}},
        {"transform": [{"fold": ["mkt", "alloc"], "as": ["kind", "val"]}],
         "mark": {"type": "point", "filled": true, "size": 55, "strokeWidth": 1.3, "opacity": 1},
         "encoding": {"y": {"field": "val", "type": "quantitative", "axis": {"values": [0, 10, 20, 30, 40, 50], "labelExpr": "datum.value + '%'", "title": null, "minExtent": 102, "labelOverlap": false}},
          "fill": {"field": "kind", "type": "nominal", "scale": {"domain": ["alloc", "mkt"], "range": ["#2d7dd2", "#ffffff"]},
                   "legend": {"orient": "none", "legendX": 13, "legendY": 4, "title": null, "symbolSize": 40, "symbolStrokeWidth": 1.3, "rowPadding": 1, "labelOffset": 4, "labelExpr": "datum.label === 'alloc' ? '公募基金在医药板块内部配置比例' : '占医药板块市值比例'"}},
          "stroke": {"field": "kind", "type": "nominal", "scale": {"domain": ["alloc", "mkt"], "range": ["#2d7dd2", "#2d7dd2"]},
                   "legend": {"orient": "none", "legendX": 13, "legendY": 4, "title": null, "symbolSize": 40, "symbolStrokeWidth": 1.3, "rowPadding": 1, "labelOffset": 4, "labelExpr": "datum.label === 'alloc' ? '公募基金在医药板块内部配置比例' : '占医药板块市值比例'"}}}}
       ]}
    ], "spacing": 0, "resolve": {"scale": {"x": "independent", "y": "independent", "color": "independent", "fill": "independent", "stroke": "independent"}, "legend": {"color": "independent", "fill": "independent", "stroke": "independent"}}}
  ], "spacing": 0, "resolve": {"scale": {"x": "independent", "y": "independent", "color": "independent", "fill": "independent", "stroke": "independent"}, "legend": {"color": "independent", "fill": "independent", "stroke": "independent"}}},

  {"hconcat": [
    {"width": 317, "height": 50, "data": {"name": "blank"},
     "layer": [
      {"mark": {"type": "rule", "strokeWidth": 1.3, "color": "#000000"},
       "encoding": {"x": {"datum": 0, "type": "quantitative", "scale": {"domain": [0, 1], "nice": false}, "axis": null}, "x2": {"datum": 1}, "y": {"datum": 6, "type": "quantitative", "scale": {"domain": [50, 0], "nice": false}, "axis": null}}},
      {"mark": {"type": "text", "align": "left", "baseline": "middle", "fontSize": 9, "fontStyle": "italic", "font": "Noto Sans CJK SC", "color": "#333333"},
       "encoding": {"x": {"datum": 0, "type": "quantitative"}, "y": {"datum": 12, "type": "quantitative"}, "text": {"value": "资料来源: 同花顺，交银国际"}}}
     ]},
    {"width": 318, "height": 50, "data": {"name": "blank"},
     "layer": [
      {"mark": {"type": "rule", "strokeWidth": 1.3, "color": "#000000"},
       "encoding": {"x": {"datum": 0, "type": "quantitative", "scale": {"domain": [0, 1], "nice": false}, "axis": null}, "x2": {"datum": 1}, "y": {"datum": 6, "type": "quantitative", "scale": {"domain": [50, 0], "nice": false}, "axis": null}}},
      {"mark": {"type": "text", "align": "left", "baseline": "middle", "fontSize": 9, "fontStyle": "italic", "font": "Noto Sans CJK SC", "color": "#333333"},
       "encoding": {"x": {"datum": 0, "type": "quantitative"}, "y": {"datum": 12, "type": "quantitative"}, "text": {"value": "资料来源: 同花顺，交银国际"}}}
     ]}
  ], "spacing": 27, "resolve": {"scale": {"x": "independent", "y": "independent"}}},

  {"width": 662, "height": 32, "data": {"name": "blank"},
   "layer": [
    {"mark": {"type": "rule", "strokeWidth": 4, "color": "#dbe8ef"},
     "encoding": {"x": {"datum": 0, "type": "quantitative", "scale": {"domain": [0, 662], "nice": false}, "axis": null}, "x2": {"datum": 662}, "y": {"datum": 2, "type": "quantitative", "scale": {"domain": [32, 0], "nice": false}, "axis": null}}},
    {"mark": {"type": "text", "align": "left", "baseline": "middle", "fontSize": 10.5, "font": "Noto Sans CJK SC", "color": "#000000"},
     "encoding": {"x": {"datum": 0, "type": "quantitative"}, "y": {"datum": 19, "type": "quantitative"}, "text": {"value": "下載本公司之研究報告，可从彭博信息：BOCM 或 https://research.bocomgroup.com"}}},
    {"mark": {"type": "text", "align": "right", "baseline": "middle", "fontSize": 13, "color": "#000000"},
     "encoding": {"x": {"datum": 660, "type": "quantitative"}, "y": {"datum": 19, "type": "quantitative"}, "text": {"value": "2"}}}
   ]}
]
}
